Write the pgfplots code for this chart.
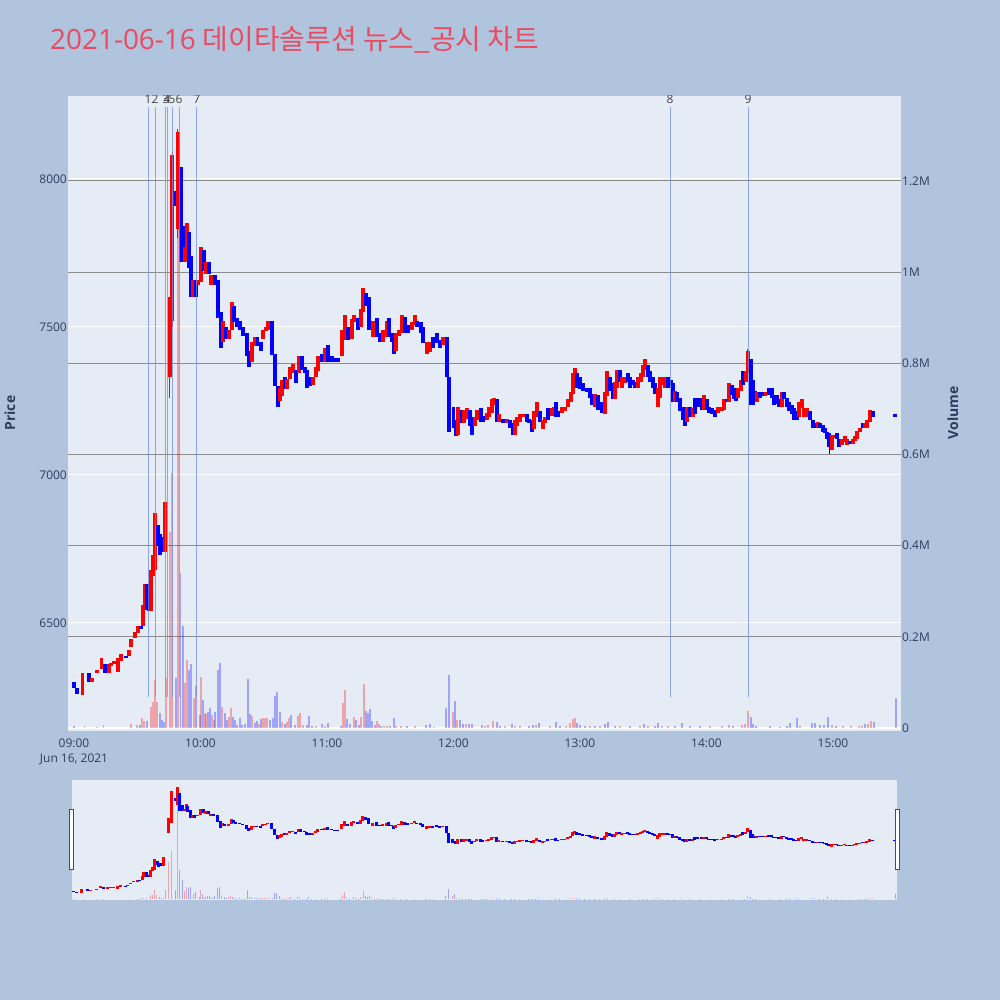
\documentclass[border=0pt]{standalone}
\usepackage{pgfplots}
\pgfplotsset{compat=1.18}
\usepackage{pgfplotstable}
\usepackage{fontspec}
\setmainfont{Open Sans}
\newfontfamily\cjk{Noto Sans CJK KR}
\definecolor{pagebg}{HTML}{B0C4DE}
\definecolor{plotbg}{HTML}{E5ECF6}
\definecolor{tickc}{HTML}{2A3F5F}
\definecolor{titlec}{HTML}{EB4B60}
\definecolor{newsc}{HTML}{6F8FE8}
\definecolor{vgrid}{HTML}{8C8C8C}
\definecolor{labc}{HTML}{444444}

\pgfplotstableread{
t o c
0 6300 6280
1.5 6280 6260
4 6255 6330
7 6330 6300
8.5 6300 6315
11 6330 6340
13 6345 6380
14.6 6360 6330
16.5 6330 6360
17.6 6355 6365
19 6360 6370
21 6335 6380
22.3 6370 6395
24.7 6390 6380
26 6390 6410
27 6420 6445
28.8 6450 6470
30.4 6465 6490
31.6 6490 6480
32.7 6490 6560
33.5 6550 6630
34.6 6630 6545
35.4 6580 6540
36.5 6540 6680
37.5 6660 6730
38.4 6680 6870
39.8 6830 6760
40.7 6800 6730
41.7 6790 6740
43 6740 6910
45.4 7330 7600
46.5 7520 8080
48.4 7960 7910
49.3 7830 8160
50.6 8040 7720
51.7 7840 7720
52.7 7720 7770
53.6 7730 7850
54.4 7820 7700
55.5 7740 7600
56.5 7600 7660
57.7 7660 7600
58.8 7640 7660
60.2 7650 7770
61.7 7760 7690
62.6 7680 7720
64 7720 7680
65 7640 7675
66.7 7675 7640
68.4 7660 7530
69.7 7550 7430
70.8 7450 7520
72 7500 7460
73.6 7460 7490
75 7490 7585
76 7570 7515
77.2 7530 7500
78.7 7520 7490
80.3 7500 7470
82 7480 7400
83 7420 7365
84.4 7380 7450
86 7435 7465
87 7465 7435
88.7 7450 7420
89.8 7460 7490
91 7485 7500
92 7490 7520
93.9 7520 7405
95.3 7410 7300
96.8 7300 7230
97.7 7250 7295
98.6 7265 7320
100 7330 7290
101 7290 7325
102.5 7325 7365
104 7345 7375
105.3 7355 7310
106.8 7345 7400
108 7400 7355
109.6 7365 7345
110.5 7355 7295
112 7330 7300
113.4 7305 7330
114.8 7330 7365
115.7 7350 7400
117.6 7410 7380
119 7380 7430
120.5 7440 7380
122.4 7400 7380
123.8 7395 7380
125.2 7395 7380
127 7400 7490
128.5 7455 7540
130 7500 7455
131.9 7460 7525
132.8 7515 7540
134.7 7530 7490
136 7500 7560
137 7550 7630
138.5 7615 7570
140 7600 7490
141.8 7465 7520
143.7 7530 7465
145.2 7480 7450
146.6 7450 7490
148.5 7465 7520
149.4 7530 7465
150.9 7480 7450
151.8 7455 7410
152.8 7420 7480
154.2 7470 7490
155.6 7480 7540
157 7535 7480
158.5 7505 7480
160.3 7490 7515
161.8 7505 7540
162.7 7520 7500
164.6 7515 7480
165.6 7500 7445
167.5 7410 7450
168.9 7415 7450
170.3 7465 7430
172.2 7480 7445
173.6 7455 7430
175 7440 7465
177 7465 7330
177.8 7330 7145
180 7230 7160
181.2 7185 7130
182 7135 7230
184 7220 7175
185 7175 7220
186.4 7190 7225
187.9 7220 7165
188.8 7195 7135
190.2 7165 7195
191.2 7185 7220
193 7225 7180
194 7200 7180
195.9 7185 7210
196.9 7195 7230
198.3 7210 7255
199.2 7235 7260
200.7 7255 7180
201.6 7180 7205
203.5 7190 7175
205.4 7175 7190
206.8 7185 7160
208.3 7175 7135
209.2 7135 7185
210.1 7165 7195
211.6 7180 7205
213 7195 7205
214.9 7205 7180
215.8 7190 7175
217.3 7185 7145
218.2 7155 7215
219.6 7195 7245
221 7215 7180
222.5 7155 7185
223.4 7175 7195
224.9 7225 7185
226.8 7200 7225
227.8 7210 7230
228.7 7245 7195
229.6 7215 7195
231.5 7210 7230
232.9 7215 7230
234.3 7230 7255
235.8 7245 7280
236.7 7275 7345
237.7 7320 7360
238.6 7345 7295
240 7330 7290
241.5 7310 7285
243.4 7295 7280
244.8 7295 7260
245.7 7275 7235
247.2 7230 7275
248.6 7270 7220
250.5 7245 7210
251.9 7205 7280
252.8 7265 7350
254.3 7330 7285
255.7 7310 7255
256.6 7255 7315
257.6 7295 7355
259 7355 7315
260 7295 7330
261.4 7310 7330
262.8 7345 7315
263.7 7330 7295
265.1 7320 7305
266.1 7315 7295
267.5 7295 7330
269 7315 7345
269.9 7330 7370
270.9 7355 7390
272.3 7370 7330
273.2 7350 7315
274.7 7330 7295
275.6 7310 7275
277 7230 7295
278 7260 7330
279.4 7305 7330
280.4 7295 7330
281.8 7330 7295
283 7320 7300
284.2 7310 7245
285.1 7245 7285
286.1 7280 7245
287.5 7260 7215
288.9 7230 7185
289.9 7220 7165
290.8 7180 7230
292.2 7230 7195
293.7 7195 7225
294.6 7260 7205
296 7260 7230
297.9 7260 7220
298.8 7220 7270
300.3 7255 7220
301.2 7230 7210
302.7 7225 7205
304.1 7220 7195
305.5 7210 7230
307.4 7215 7230
308.3 7220 7255
309.8 7255 7245
310.7 7245 7310
312.2 7305 7270
313.1 7295 7255
314 7285 7250
315 7260 7295
316.4 7285 7320
317.4 7350 7305
318.8 7315 7350
319.7 7345 7420
321.1 7390 7235
322 7320 7235
323 7285 7245
324 7245 7280
325.4 7280 7260
326.8 7280 7265
328 7265 7280
329.7 7295 7270
331.1 7295 7260
332 7270 7235
333.5 7270 7240
334.4 7255 7230
335.9 7230 7280
336.8 7280 7255
338.2 7260 7230
339.2 7245 7215
340.6 7235 7205
341.6 7225 7185
343 7215 7185
344 7195 7245
345.4 7225 7255
346.3 7195 7225
347.7 7195 7225
349.1 7215 7185
350.6 7185 7160
351.5 7175 7160
352.9 7160 7180
353.9 7175 7160
355.3 7170 7145
356.3 7160 7140
357.2 7145 7120
358.2 7140 7095
359.6 7085 7135
360.5 7125 7135
362 7140 7120
362.9 7120 7095
364.3 7100 7120
365.7 7110 7130
366.7 7100 7120
368.1 7115 7105
369.5 7105 7120
370.5 7115 7130
371.4 7120 7150
372.8 7145 7160
374.3 7175 7160
375.2 7160 7175
376.2 7160 7185
377.6 7180 7220
379 7215 7195
389.5 7205 7195
}\candles

\pgfplotstableread{
t l h u
45.4 7260 7600 1
46.5 7500 8090 1
49.3 7800 8170 1
319.7 7340 7425 1
358.2 7070 7140 0
}\wicks

\pgfplotstableread{
t v u
0 5000 0
5 4000 1
11 3000 1
14 6000 1
27 9000 1
30 6000 1
31.3 6000 0
32.3 22000 1
33.2 15000 1
34.6 15000 0
36.5 46000 1
37.5 57000 1
38.4 105000 1
39.4 57000 1
40.8 33000 0
41.7 18000 0
42.7 13000 0
43.6 110000 1
45.4 430000 1
46.5 560000 1
48.4 110000 0
49.3 1310000 1
50.6 340000 0
51.7 224000 0
52.7 99000 1
53.6 150000 1
54.6 127000 0
55.5 140000 0
56.9 66000 1
57.9 92000 0
59.8 29000 0
60.2 112000 1
61.2 62000 0
62.1 33000 1
62.6 30000 1
63.6 35000 0
64.5 44000 0
65.5 29000 1
66.4 18000 1
66.9 35000 0
68.3 127000 0
69.3 143000 0
70.2 46000 1
71.6 33000 0
72.6 18000 0
73.5 24000 1
74.5 44000 1
75.4 24000 0
76.4 18000 0
77.3 7000 0
78.7 22000 0
79.7 7000 0
81.1 9000 0
82.5 108000 0
83.5 31000 0
84.4 26000 1
85.9 11000 0
86.8 15000 0
87.8 9000 1
88.7 20000 0
89.7 22000 1
90.6 22000 1
91.6 22000 1
93 18000 0
94.4 22000 0
95.4 70000 0
96.3 79000 0
97.7 35000 0
98.7 13000 1
100.1 9000 0
101 13000 1
102 22000 1
102.9 29000 0
104.8 7000 0
106.3 26000 1
107.2 33000 1
108.6 7000 1
110.5 7000 0
111.5 26000 0
112.9 4000 0
114.8 4000 1
117.6 9000 0
119 4000 1
120.5 11000 0
126.7 4000 0
127.6 55000 1
128.6 84000 1
129.5 20000 0
130.9 9000 0
132.8 24000 1
133.8 18000 0
135.2 7000 0
136.1 24000 1
137.6 97000 1
138.5 37000 0
139.5 33000 0
140.4 42000 0
141.4 15000 0
142.8 7000 0
143.7 15000 1
144.7 9000 1
145.6 5000 0
147 4000 1
148.5 4000 1
149.9 4000 0
151.8 22000 0
152.8 4000 1
155 4000 1
158 4000 0
161.8 4000 1
167 7000 0
168.9 9000 0
170.8 3000 1
176.5 44000 0
177.9 116000 0
179.8 35000 1
180.7 60000 0
181.7 18000 1
183.1 18000 0
184.5 9000 0
186 9000 1
187.4 9000 0
188.8 9000 0
193.5 6000 0
195 5000 1
196.5 7000 1
198.8 15000 1
200.7 13000 0
202 5000 0
204.5 5000 1
207.8 9000 0
209.2 5000 1
211.6 4000 1
215.8 4000 0
217.7 6000 0
219.2 7000 1
220.6 11000 0
225.8 4000 1
228.7 13000 0
230.5 4000 0
233.4 5000 1
235.3 11000 1
236.7 20000 1
237.7 22000 1
238.6 11000 0
240 7000 0
242.4 4000 0
244.8 5000 1
247.2 4000 0
249.5 5000 1
251.9 9000 0
253.3 13000 0
256.6 4000 0
259 4000 1
263.8 4000 0
268.5 5000 1
270.4 9000 0
272.3 5000 1
275.6 4000 0
277 11000 0
278.9 4000 1
281.8 4000 1
285.1 5000 0
288.4 11000 0
292.2 4000 0
296.9 4000 0
301.7 4000 1
307.4 4000 1
310.7 6000 1
312.6 4000 0
316.9 7000 1
318.3 9000 1
319.7 37000 1
321.1 24000 0
322 9000 0
323.4 4000 0
330.2 4000 0
334.9 3000 0
338.2 4000 0
339.7 11000 0
343 22000 0
344.4 4000 1
350.1 11000 0
351.5 11000 0
353.9 7000 0
355.8 7000 0
357.7 24000 0
359.6 6000 1
361.5 5000 0
364.8 4000 1
368.6 4000 1
372.4 4000 1
373.8 5000 1
375.2 9000 0
376.6 9000 1
378.1 15000 1
379.5 13000 0
389.9 66000 0
}\vols

\pgfplotsset{
  rbmap/.style={colormap={rb}{color=(blue) color=(red)}, point meta min=0, point meta max=1},
  mainpos/.style={at={(68bp,269bp)}, anchor=south west, width=833bp, height=635bp, scale only axis, xmin=-2.85, xmax=392.3},
  slidepos/.style={at={(72bp,100bp)}, anchor=south west, width=825bp, height=120bp, scale only axis, xmin=-0.5, xmax=390.5},
  tickfont/.style={font=\fontsize{12}{15}\selectfont, text=tickc},
}

\begin{document}
\begin{tikzpicture}[x=1bp,y=1bp]
\fill[pagebg] (0,0) rectangle (1000,1000);
\node[anchor=west, text=titlec, font=\fontsize{28}{32}\selectfont, inner sep=0] at (50,960) {2021-06-16 {\cjk 데이타솔루션 뉴스\_공시 차트}};

% price axis: background, white grid, ticks
\begin{axis}[mainpos, ymin=6135, ymax=8280,
  axis background/.style={fill=plotbg},
  axis line style={draw=none}, tick style={draw=none},
  ytick={6500,7000,7500,8000}, ymajorgrids, grid style={white, line width=1bp},
  xtick={0,60,120,180,240,300,360},
  xticklabels={{09:00\\Jun 16, 2021},10:00,11:00,12:00,13:00,14:00,15:00},
  xticklabel style={tickfont, align=center, inner sep=1bp, yshift=-7bp},
  yticklabel style={tickfont, inner sep=1bp},
  /pgf/number format/assume math mode=true,
  /pgf/number format/set thousands separator={},
  scaled y ticks=false]
\end{axis}

% volume axis
\begin{axis}[mainpos, ymin=-6600, ymax=1386500, rbmap,
  axis x line=none, axis y line*=right, xtick=\empty,
  axis line style={draw=none}, tick style={draw=none},
  ytick={200000,400000,600000,800000,1000000,1200000},
  yticklabels={0.2M,0.4M,0.6M,0.8M,1M,1.2M},
  extra y ticks={0}, extra y tick labels={0},
  extra y tick style={grid style={white, line width=1.5bp}},
  ymajorgrids, grid style={vgrid, line width=1bp},
  yticklabel style={tickfont, inner sep=1bp},
  scaled y ticks=false]
\addplot[quiver={u=0, v=\thisrow{v}, colored}, point meta=\thisrow{u}, line width=1.6bp, opacity=0.3] table[x=t, y expr=0] {\vols};
\end{axis}

% candles
\begin{axis}[mainpos, ymin=6135, ymax=8280, hide axis, rbmap]
\addplot[quiver={u=0, v=\thisrow{h}-\thisrow{l}, colored}, point meta=\thisrow{u}, line width=1bp] table[x=t, y=l] {\wicks};
\addplot[quiver={u=0, v=\thisrow{c}-\thisrow{o}, colored}, point meta={\thisrow{c}>\thisrow{o}}, line width=3.8bp] table[x=t, y=o] {\candles};
\addplot[newsc, line width=0.9bp, opacity=0.75] coordinates {(35.1,6250) (35.1,8243)};
\addplot[newsc, line width=0.9bp, opacity=0.75] coordinates {(38.4,6250) (38.4,8243)};
\addplot[newsc, line width=0.9bp, opacity=0.75] coordinates {(43.6,6250) (43.6,8243)};
\addplot[newsc, line width=0.9bp, opacity=0.75] coordinates {(44.1,6250) (44.1,8243)};
\addplot[newsc, line width=0.9bp, opacity=0.75] coordinates {(46.5,6250) (46.5,8243)};
\addplot[newsc, line width=0.9bp, opacity=0.75] coordinates {(49.8,6250) (49.8,8243)};
\addplot[newsc, line width=0.9bp, opacity=0.75] coordinates {(58.3,6250) (58.3,8243)};
\addplot[newsc, line width=0.9bp, opacity=0.75] coordinates {(282.7,6250) (282.7,8243)};
\addplot[newsc, line width=0.9bp, opacity=0.75] coordinates {(319.7,6250) (319.7,8243)};
\begin{scope}[every node/.style={font=\fontsize{12}{14}\selectfont, text=labc, anchor=base, inner sep=0}]
\node at (axis cs:35.1,8253) {1};
\node at (axis cs:38.4,8253) {2};
\node at (axis cs:43.6,8253) {3};
\node at (axis cs:44.1,8253) {4};
\node at (axis cs:46.5,8253) {5};
\node at (axis cs:49.8,8253) {6};
\node at (axis cs:58.3,8253) {7};
\node at (axis cs:282.7,8253) {8};
\node at (axis cs:319.7,8253) {9};
\end{scope}
\end{axis}

\node[rotate=90, font=\bfseries\fontsize{14}{16}\selectfont, text=tickc] at (10,587) {Price};
\node[rotate=90, font=\bfseries\fontsize{14}{16}\selectfont, text=tickc] at (953,587) {Volume};

% range slider
\fill[plotbg] (72,100) rectangle (897,220);
\begin{axis}[slidepos, ymin=-6600, ymax=1386500, hide axis, rbmap]
\addplot[quiver={u=0, v=\thisrow{v}, colored}, point meta=\thisrow{u}, line width=1bp, opacity=0.3] table[x=t, y expr=0] {\vols};
\end{axis}
\begin{axis}[slidepos, ymin=6135, ymax=8280, hide axis, rbmap]
\addplot[quiver={u=0, v=\thisrow{c}-\thisrow{o}, colored}, point meta={\thisrow{c}>\thisrow{o}}, line width=3bp] table[x=t, y=o] {\candles};
\end{axis}
\filldraw[fill=white, draw=black!70, line width=1bp] (69,130) rectangle (73,190);
\filldraw[fill=white, draw=black!70, line width=1bp] (895,130) rectangle (899,190);
\end{tikzpicture}
\end{document}
